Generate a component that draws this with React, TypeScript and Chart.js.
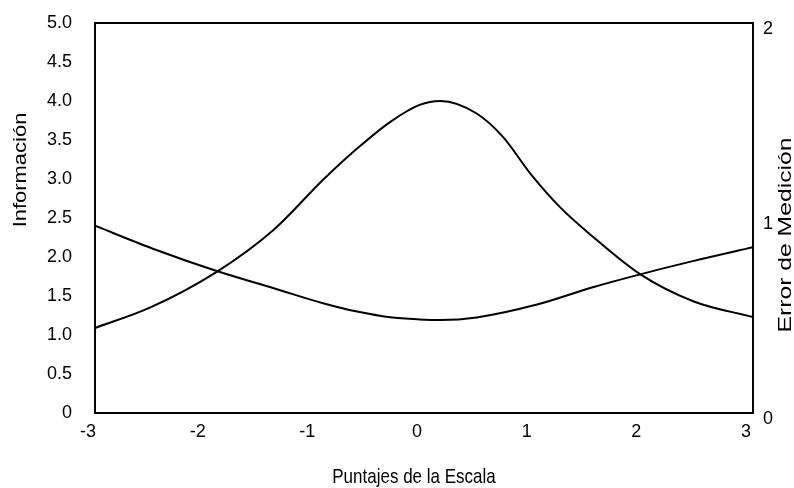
import React, { useEffect, useRef } from "react";
import { Chart, registerables } from "chart.js";

Chart.register(...registerables);

const infoX = [-3, -2.5, -1.89, -1.37, -0.92, -0.61, -0.31, -0.04, 0.15, 0.48, 0.72, 0.97, 1.24, 1.54, 1.97, 2.46, 3.0];
const infoY = [1.09, 1.35, 1.81, 2.35, 2.99, 3.39, 3.73, 3.95, 4.0, 3.84, 3.54, 3.07, 2.64, 2.26, 1.78, 1.43, 1.23];

const errX = [-3, -2.44, -1.89, -1.37, -0.92, -0.61, -0.31, -0.04, 0.15, 0.48, 1.03, 1.54, 1.97, 2.46, 3.0];
const errY = [0.96, 0.836, 0.728, 0.64, 0.563, 0.52, 0.491, 0.48, 0.477, 0.49, 0.556, 0.645, 0.711, 0.78, 0.85];

const xTicks = [-3, -2, -1, 0, 1, 2, 3];
const leftTicks = [0, 0.5, 1, 1.5, 2, 2.5, 3, 3.5, 4, 4.5, 5];
const rightTicks = [0, 1, 2];

const xTitle = "Puntajes de la Escala";
const leftTitle = "Información";
const rightTitle = "Error de Medición";

const FONT = "'Liberation Sans', Arial, sans-serif";

const framePlugin = {
  id: "frameAndTitles",
  afterDraw(chart: any) {
    const { ctx, chartArea } = chart;
    const { left, right, top, bottom } = chartArea;
    ctx.save();
    ctx.strokeStyle = "#000";
    ctx.lineWidth = 2;
    ctx.strokeRect(left, top, right - left, bottom - top);

    ctx.fillStyle = "#000";
    ctx.textAlign = "center";
    ctx.textBaseline = "alphabetic";

    ctx.save();
    ctx.translate(414, 483);
    ctx.scale(1, 1.15);
    ctx.font = `17px ${FONT}`;
    ctx.fillText(xTitle, 0, 0);
    ctx.restore();

    ctx.save();
    ctx.translate(26, 170);
    ctx.rotate(-Math.PI / 2);
    ctx.scale(1.22, 1);
    ctx.font = `18px ${FONT}`;
    ctx.fillText(leftTitle, 0, 0);
    ctx.restore();

    ctx.save();
    ctx.translate(791, 235);
    ctx.rotate(-Math.PI / 2);
    ctx.scale(1.3, 1);
    ctx.font = `19px ${FONT}`;
    ctx.fillText(rightTitle, 0, 0);
    ctx.restore();

    ctx.restore();
  },
};

const zeroPad = (s: any) => {
  s.paddingTop = 0;
  s.paddingBottom = 0;
  s.paddingLeft = 0;
  s.paddingRight = 0;
};

export default function App() {
  const ref = useRef<HTMLCanvasElement>(null);

  useEffect(() => {
    if (!ref.current) return;
    const chart = new Chart(ref.current, {
      type: "line",
      data: {
        datasets: [
          {
            label: "Información",
            data: infoX.map((x, i) => ({ x, y: infoY[i] })),
            borderColor: "#000",
            borderWidth: 2,
            pointRadius: 0,
            cubicInterpolationMode: "monotone",
            yAxisID: "y",
          },
          {
            label: "Error de Medición",
            data: errX.map((x, i) => ({ x, y: errY[i] })),
            borderColor: "#000",
            borderWidth: 2,
            pointRadius: 0,
            cubicInterpolationMode: "monotone",
            yAxisID: "y1",
          },
        ],
      },
      options: {
        animation: false,
        responsive: true,
        maintainAspectRatio: false,
        layout: { padding: { top: 23, left: 0, right: 0, bottom: 0 } },
        plugins: { legend: { display: false }, tooltip: { enabled: false } },
        scales: {
          x: {
            type: "linear",
            min: -3,
            max: 3,
            afterFit: (s: any) => { s.height = 75; zeroPad(s); },
            afterBuildTicks: (s: any) => { s.ticks = xTicks.map((v) => ({ value: v })); },
            grid: { display: false, drawTicks: false },
            border: { display: false },
            ticks: {
              color: "#000",
              padding: 8,
              labelOffset: -7,
              maxRotation: 0,
              font: { family: FONT, size: 18 },
              callback: (v: any) => String(v),
            },
          },
          y: {
            type: "linear",
            position: "left",
            min: 0,
            max: 5,
            afterFit: (s: any) => { s.width = 95; zeroPad(s); },
            afterBuildTicks: (s: any) => { s.ticks = leftTicks.map((v) => ({ value: v })); },
            grid: { display: false, drawTicks: false },
            border: { display: false },
            ticks: {
              color: "#000",
              padding: 23,
              font: { family: FONT, size: 18 },
              callback: (v: any) => (v === 0 ? "0" : Number(v).toFixed(1)),
            },
          },
          y1: {
            type: "linear",
            position: "right",
            min: 0,
            max: 2,
            afterFit: (s: any) => { s.width = 41; zeroPad(s); },
            afterBuildTicks: (s: any) => { s.ticks = rightTicks.map((v) => ({ value: v })); },
            grid: { display: false, drawTicks: false },
            border: { display: false },
            ticks: {
              color: "#000",
              padding: 10,
              labelOffset: 6,
              font: { family: FONT, size: 18 },
              callback: (v: any) => String(v),
            },
          },
        },
      },
      plugins: [framePlugin],
    });
    return () => chart.destroy();
  }, []);

  return (
    <div style={{ position: "absolute", left: 0, top: 0, width: 794, height: 488, background: "#fff" }}>
      <canvas ref={ref} />
    </div>
  );
}
